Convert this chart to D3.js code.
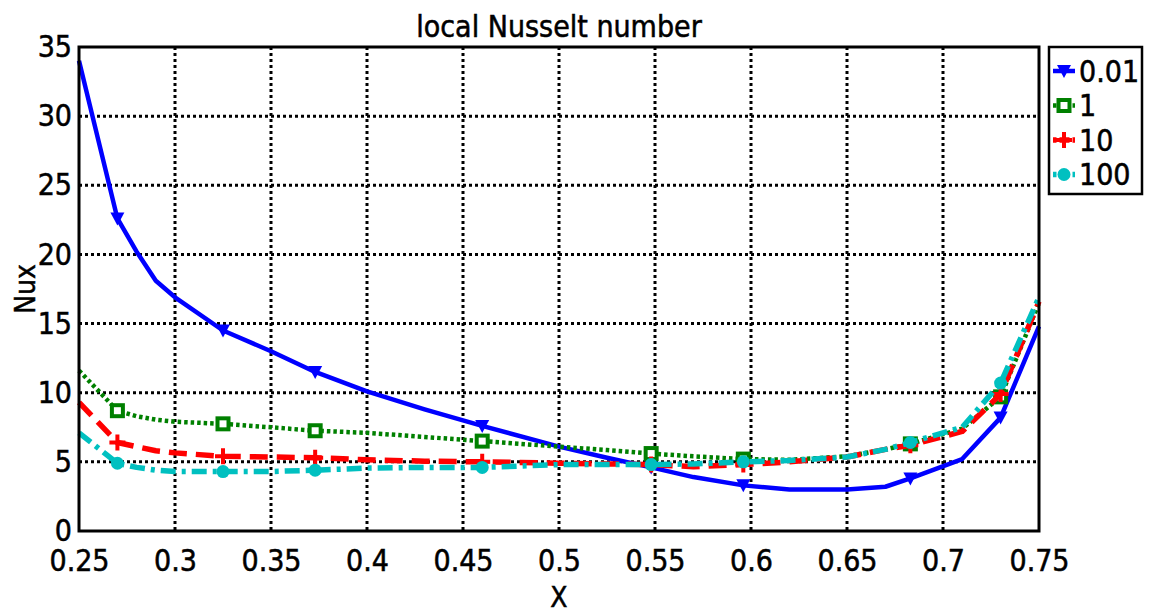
<!DOCTYPE html>
<html>
<head>
<meta charset="utf-8">
<script src="https://cdn.jsdelivr.net/npm/d3@7"></script>
<style>
  body { margin: 0; background: #fff; }
  svg text { font-family: "DejaVu Sans Condensed", "DejaVu Sans", sans-serif; fill: #000;
             stroke: #000; stroke-width: 0.5px; }
</style>
</head>
<body>
<svg id="chart" width="1150" height="614"></svg>
<script>
// x positions of the curve points
const X = [0.25, 0.27, 0.28, 0.29, 0.3, 0.325, 0.35, 0.373, 0.4, 0.43, 0.46, 0.5, 0.525,
           0.548, 0.57, 0.596, 0.62, 0.65, 0.67, 0.683, 0.71, 0.73, 0.75];
// x positions where markers are drawn
const markerX = [0.27, 0.325, 0.373, 0.46, 0.548, 0.596, 0.683, 0.73];

const nu001 = [34.0, 22.6, 20.2, 18.1, 16.9, 14.5, 13.0, 11.5, 10.1, 8.8, 7.6, 6.1, 5.3,
               4.6, 3.9, 3.3, 3.0, 3.0, 3.2, 3.8, 5.2, 8.2, 14.8];
const nu1   = [11.6, 8.7, 8.3, 8.05, 7.9, 7.75, 7.5, 7.25, 7.1, 6.8, 6.5, 6.1, 5.85,
               5.6, 5.4, 5.2, 5.15, 5.4, 5.9, 6.3, 7.4, 9.7, 16.5];
const nu10  = [9.3, 6.4, 6.1, 5.8, 5.65, 5.4, 5.35, 5.3, 5.15, 5.05, 5.0, 4.9, 4.85,
               4.8, 4.65, 4.8, 5.0, 5.35, 5.9, 6.2, 7.2, 9.9, 16.6];
const nu100 = [7.1, 4.9, 4.6, 4.4, 4.3, 4.3, 4.3, 4.4, 4.55, 4.6, 4.6, 4.8, 4.8,
               4.8, 4.85, 5.0, 5.1, 5.35, 5.9, 6.4, 7.5, 10.7, 16.9];

const seriesNames = ["0.01", "1", "10", "100"];
const xTicks = [0.25, 0.3, 0.35, 0.4, 0.45, 0.5, 0.55, 0.6, 0.65, 0.7, 0.75];
const yTicks = [0, 5, 10, 15, 20, 25, 30, 35];

const series = [
  {name: seriesNames[0], vals: nu001, color: "#0000ff", dash: null, width: 4.5, marker: "tri"},
  {name: seriesNames[1], vals: nu1, color: "#008000", dash: "3.5,3", width: 4.5, marker: "square"},
  {name: seriesNames[2], vals: nu10, color: "#ff0000", dash: "18,9", width: 5.5, marker: "plus"},
  {name: seriesNames[3], vals: nu100, color: "#00c0c0", dash: "15,6,4,6", width: 5.5, marker: "circle"}
];

const svg = d3.select("#chart");
const margin = {top: 47, right: 111, bottom: 83, left: 79};
const width = 1150 - margin.left - margin.right,
      height = 614 - margin.top - margin.bottom;

const g = svg.append("g").attr("transform", `translate(${margin.left},${margin.top})`);

const x = d3.scaleLinear().domain([0.25, 0.75]).range([0, width]);
const y = d3.scaleLinear().domain([0, 35]).range([height, 0]);

// grid
g.selectAll(".gx").data(xTicks.slice(1, -1)).enter().append("line")
  .attr("x1", d => x(d)).attr("x2", d => x(d))
  .attr("y1", 0).attr("y2", height)
  .attr("stroke", "#000").attr("stroke-width", 3).attr("stroke-dasharray", "3,3");
g.selectAll(".gy").data(yTicks.slice(1, -1)).enter().append("line")
  .attr("y1", d => y(d)).attr("y2", d => y(d))
  .attr("x1", 0).attr("x2", width)
  .attr("stroke", "#000").attr("stroke-width", 3).attr("stroke-dasharray", "3,3");

// axes labels
const xAxis = g.append("g")
  .attr("transform", `translate(0,${height})`)
  .call(d3.axisBottom(x).tickValues(xTicks).tickSize(0).tickPadding(14).tickFormat(d3.format("")));
const yAxis = g.append("g")
  .call(d3.axisLeft(y).tickValues(yTicks).tickSize(0).tickPadding(7));
[xAxis, yAxis].forEach(a => {
  a.select(".domain").remove();
  a.selectAll("text").style("font-size", "30px")
    .style("font-family", "'DejaVu Sans Condensed', 'DejaVu Sans', sans-serif");
});
xAxis.selectAll("text").attr("dy", "0.85em");

// lines
const line = d3.line().x(d => x(d[0])).y(d => y(d[1]));

series.forEach(s => {
  const pts = X.map((xv, i) => [xv, s.vals[i]]);
  g.append("path")
    .datum(pts)
    .attr("fill", "none")
    .attr("stroke", s.color)
    .attr("stroke-width", s.width)
    .attr("stroke-linejoin", "round")
    .attr("stroke-dasharray", s.dash)
    .attr("d", line);

  const mpts = pts.filter(p => markerX.includes(p[0]));
  mpts.forEach(p => drawMarker(g, s, x(p[0]), y(p[1])));
});

function drawMarker(sel, s, cx, cy) {
  if (s.marker === "tri") {
    sel.append("path")
      .attr("d", `M${cx - 7},${cy - 6}L${cx + 7},${cy - 6}L${cx},${cy + 7}Z`)
      .attr("fill", s.color);
  } else if (s.marker === "square") {
    sel.append("rect")
      .attr("x", cx - 5.5).attr("y", cy - 5.5).attr("width", 11).attr("height", 11)
      .attr("fill", "#fff").attr("stroke", s.color).attr("stroke-width", 4);
  } else if (s.marker === "plus") {
    sel.append("path")
      .attr("d", `M${cx - 8},${cy}H${cx + 8}M${cx},${cy - 8}V${cy + 8}`)
      .attr("stroke", s.color).attr("stroke-width", 4).attr("fill", "none");
  } else {
    sel.append("circle").attr("cx", cx).attr("cy", cy).attr("r", 6.5).attr("fill", s.color);
  }
}

// frame
g.append("rect").attr("width", width).attr("height", height)
  .attr("fill", "none").attr("stroke", "#000").attr("stroke-width", 3);

// title & axis titles
svg.append("text").attr("x", margin.left + width / 2).attr("y", 37)
  .attr("text-anchor", "middle").style("font-size", "30px").text("local Nusselt number");
svg.append("text").attr("x", margin.left + width / 2).attr("y", 607)
  .attr("text-anchor", "middle").style("font-size", "28px").text("X");
svg.append("text").attr("transform", "translate(35,289) rotate(-90)")
  .attr("text-anchor", "middle").style("font-size", "28px").text("Nux");

// legend
const legend = svg.append("g").attr("transform", "translate(1049,47)");
legend.append("rect").attr("width", 93).attr("height", 147)
  .attr("fill", "#fff").attr("stroke", "#000").attr("stroke-width", 2.5);
series.forEach((s, i) => {
  const ly = 24 + i * 34.5;
  legend.append("line").attr("x1", 4).attr("x2", 26).attr("y1", ly).attr("y2", ly)
    .attr("stroke", s.color).attr("stroke-width", s.width)
    .attr("stroke-dasharray", s.dash ? "3.5,3" : null);
  drawMarker(legend, s, 15, ly);
  legend.append("text").attr("x", 30).attr("y", ly).attr("dy", "0.36em")
    .style("font-size", "30px").text(s.name);
});
</script>
</body>
</html>
